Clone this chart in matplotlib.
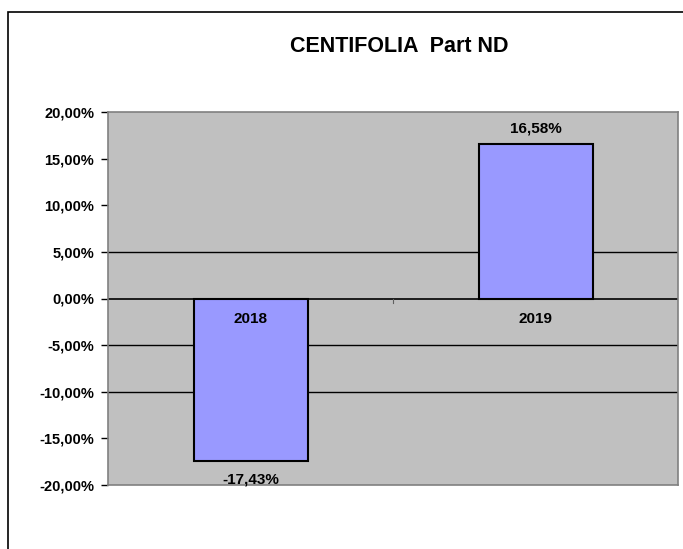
import matplotlib.pyplot as plt
from matplotlib.patches import Rectangle

# data
years = ['2018', '2019']
values = [-17.43, 16.58]
y_ticks = [20, 15, 10, 5, 0, -5, -10, -15, -20]
grid_levels = [5, -5, -10]

plt.rcParams['font.family'] = ['Liberation Sans', 'DejaVu Sans']

def pct(v):
    return '{:.2f}%'.format(v).replace('.', ',')

fig = plt.figure(figsize=(6.83, 5.49), dpi=100)
fig.patch.set_facecolor('white')

# outer chart border (clipped on right and bottom like the source)
fig.patches.append(Rectangle((8 / 683, -0.1), 1.2, 1 - 12 / 549 + 0.1,
                             transform=fig.transFigure, fill=False,
                             edgecolor='black', linewidth=1.2))

ax = fig.add_axes([108 / 683, 1 - 485 / 549, 570 / 683, 373 / 549])
ax.set_facecolor('#C0C0C0')

for g in grid_levels:
    ax.axhline(g, color='black', linewidth=1.0, zorder=1)
ax.axhline(0, color='black', linewidth=1.2, zorder=1)

x = range(len(years))
ax.bar(x, values, width=0.4, color='#9999FF', edgecolor='black',
       linewidth=1.5, zorder=2)

ax.set_xlim(-0.5, 1.5)
ax.set_ylim(-20, 20)
ax.set_yticks(y_ticks)
ax.set_yticklabels([pct(t) for t in y_ticks], fontweight='bold', fontsize=10.5)
ax.tick_params(axis='y', length=5, width=1, color='black', pad=5)
ax.set_xticks([])

for s in ax.spines.values():
    s.set_color('#808080')
    s.set_linewidth(1.2)

# category separator tick on the zero line
ax.plot([0.5, 0.5], [0, -0.5], color='#606060', linewidth=0.8, zorder=1)

# category labels just under the zero line
for i, yr in enumerate(years):
    ax.text(i, -1.4, yr, ha='center', va='top', fontsize=11,
            fontweight='bold', zorder=3)

# value labels
for i, v in enumerate(values):
    if v >= 0:
        ax.text(i, v + 0.9, pct(v), ha='center', va='bottom', fontsize=11,
                fontweight='bold', zorder=3)
    else:
        ax.text(i, v - 1.2, pct(v), ha='center', va='top', fontsize=11,
                fontweight='bold', zorder=3, clip_on=False)

fig.text(399 / 683, 1 - 46 / 549, 'CENTIFOLIA  Part ND', ha='center',
         va='center', fontsize=15.5, fontweight='bold')

fig.savefig('out.png', dpi=100)
